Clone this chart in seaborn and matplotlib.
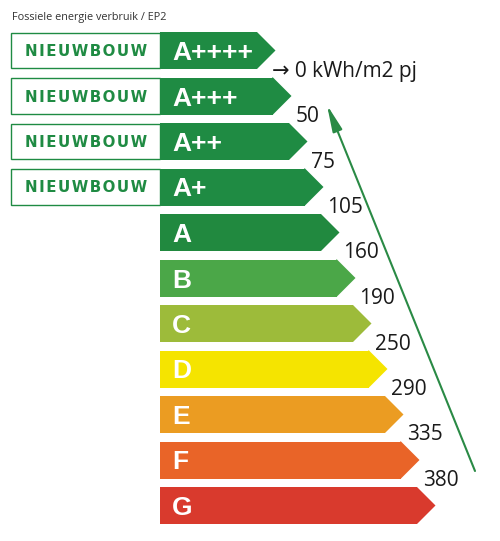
import matplotlib
matplotlib.use('Agg')
import matplotlib.pyplot as plt
import seaborn as sns
from matplotlib.patches import Rectangle

# Energy label classes, top (best) to bottom (worst)
classes = ['A++++', 'A+++', 'A++', 'A+', 'A', 'B', 'C', 'D', 'E', 'F', 'G']
colors = ['#1f8b43', '#1f8b43', '#1f8b43', '#1f8b43', '#21893f', '#4ba748',
          '#9dbb3a', '#f5e400', '#eb9c22', '#e96428', '#d93a2d']
# classes that carry the "NIEUWBOUW" tag
new_build = ['A++++', 'A+++', 'A++', 'A+']
# class boundaries in kWh/m2 per year (between class i and i+1)
bounds = [0, 50, 75, 105, 160, 190, 250, 290, 335, 380]

green = '#1f8b43'
sns.set_style('white')

fig = plt.figure(figsize=(5, 5.41), dpi=100)
ax = fig.add_axes([0, 0, 1, 1])

# layout: x is measured in pixels from the left edge of the colour bars,
# y is the class index (row pitch 45.5 px, bar height 37 px)
pitch = 45.5
bar_h = 37 / pitch
tip = 18.5
lengths = [97 + 16 * i for i in range(len(classes))]

sns.barplot(x=lengths, y=classes, hue=classes, palette=colors, order=classes,
            hue_order=classes, width=bar_h, saturation=1, linewidth=0,
            legend=False, ax=ax)

tag = '\u200a'.join('NIEUWBOUW')

for i, (cls, col, L) in enumerate(zip(classes, colors, lengths)):
    top, bot = i - bar_h / 2, i + bar_h / 2
    ax.fill([L - 1, L, L + tip, L, L - 1], [top, top, i, bot, bot],
            color=col, lw=0)
    ax.text(12, i + 9.5 / pitch, cls, color='white', fontsize=19,
            fontweight='bold', family='Liberation Sans', va='baseline', ha='left')
    if cls in new_build:
        ax.add_patch(Rectangle((-149.3, top + 0.7 / pitch), 149.3, bar_h - 1.4 / pitch,
                               facecolor='white', edgecolor=green, lw=1.0))
        ax.text(-74, i + 5.5 / pitch, tag, color=green, fontsize=10.8,
                fontweight='bold', family='DejaVu Sans', va='baseline', ha='center')

# boundary values next to the chevron tips
for i, b in enumerate(bounds):
    x = lengths[i] + tip + 4
    y = i + bar_h / 2 + 7.5 / pitch
    label = f'→ {b} kWh/m2 pj' if i == 0 else str(b)
    ax.text(x - (8 if i == 0 else 0), y, label, fontsize=15, color='#1a1a1a',
            family=['Open Sans', 'DejaVu Sans'], va='baseline', ha='left')

# long arrow pointing towards the lower values
ax.annotate('', xy=(167, (105 - 50.5) / pitch), xytext=(315, (471 - 50.5) / pitch),
            arrowprops=dict(arrowstyle='-|>,head_length=1.6,head_width=0.3',
                            color='#2a8a45', lw=1.5, mutation_scale=10,
                            shrinkA=0, shrinkB=0))

ax.text(-148, (20 - 50.5) / pitch, 'Fossiele energie verbruik / EP2', fontsize=7.8,
        color='#333333', family=['Open Sans', 'DejaVu Sans'], va='baseline', ha='left')

ax.set_xlim(-160, 340)
ax.set_ylim((541 - 50.5) / pitch, -50.5 / pitch)
ax.axis('off')

fig.savefig('out.png', dpi=100)
